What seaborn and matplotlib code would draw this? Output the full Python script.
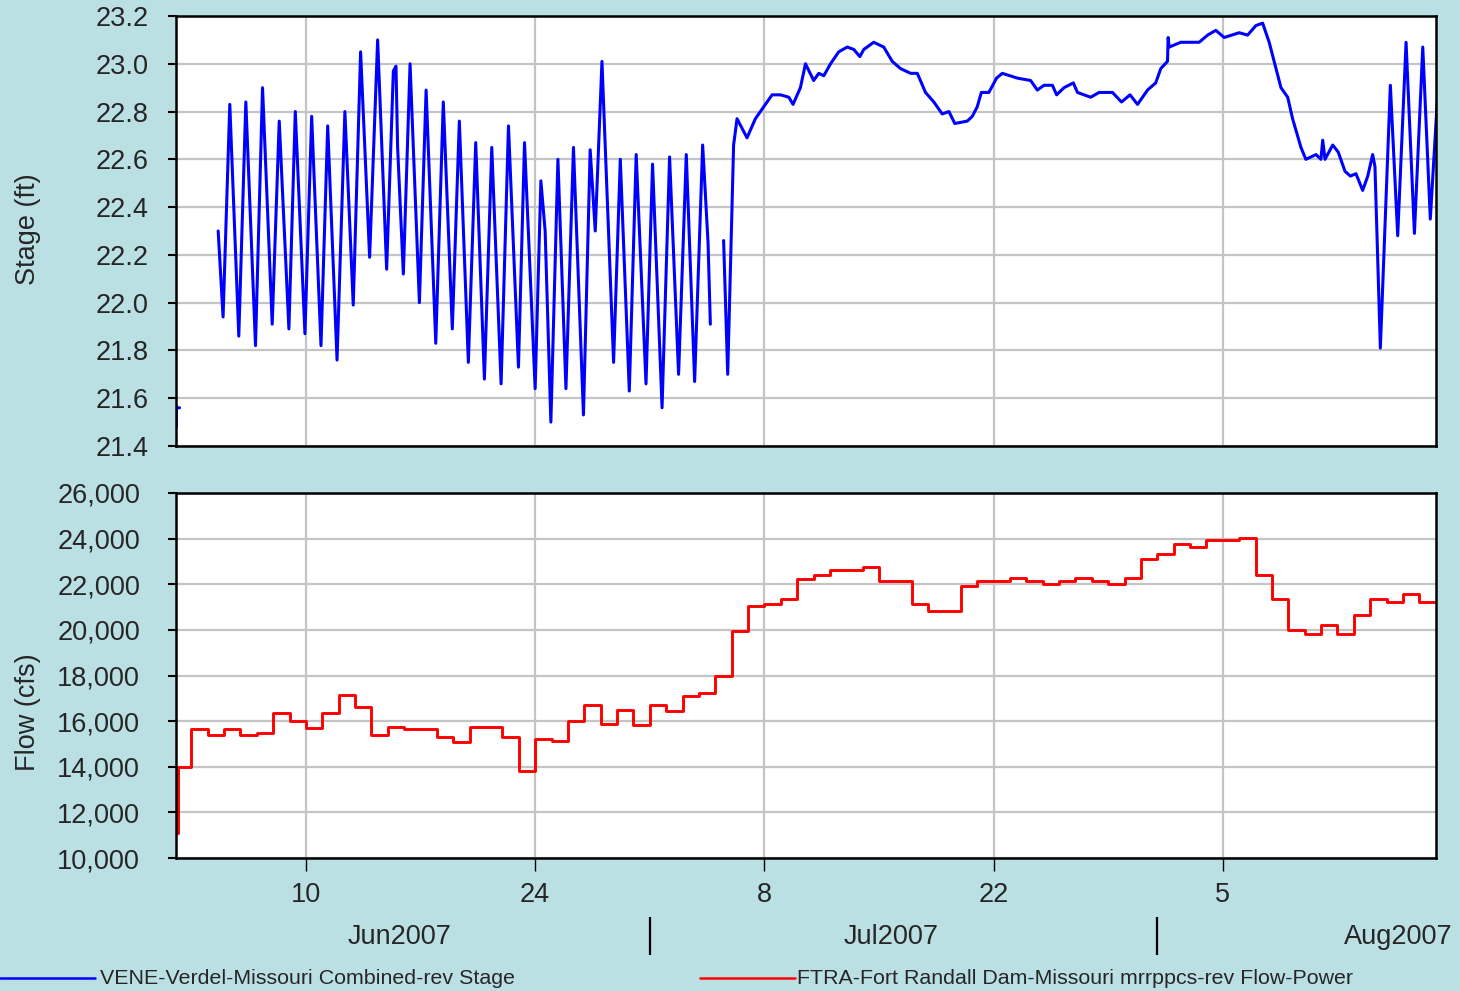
# %%
# ===== Loading Libraries =====
import numpy as np
import pandas as pd
import matplotlib
matplotlib.use('Agg')
import matplotlib.pyplot as plt
import matplotlib.dates as mdates
from matplotlib.lines import Line2D
from matplotlib.ticker import FuncFormatter
import seaborn as sns

sns.set_theme(style='white')
plt.rcParams['font.family'] = ['Liberation Sans', 'DejaVu Sans']

# %%
# ===== Data (days counted from 2007-06-01 00:00) =====
stage_day = [1.08, 1.09, 1.28, np.nan,
             3.64, 3.94, 4.35, 4.90, 5.33, 5.92, 6.35, 6.94, 7.37, 7.96, 8.35, 8.94,
             9.35, 9.92, 10.33, 10.90, 11.38, 11.89, 12.34, 12.89, 13.38, 13.93,
             14.34, 14.50, 14.60, 14.95, 15.36, 15.93, 16.34, 16.93, 17.39, 17.94,
             18.37, 18.92, 19.37, 19.90, 20.35, 20.92, 21.37, 21.98, 22.35, 23.00,
             23.35, 23.61, 23.96, 24.39, 24.88, 25.34, 25.95, 26.36, 26.67, 27.08,
             27.79, 28.20, 28.75, 29.17, 29.77, 30.17, 30.75, 31.21, 31.76, 32.23,
             32.74, 33.23, 33.56, 33.70, np.nan,
             34.51, 34.76, 35.12, 35.33, 35.94, 36.45, 36.96, 37.47, 37.98, 38.49,
             38.75, 39.20, 39.51, 40.01, 40.32, 40.63, 41.04, 41.54, 42.06, 42.46,
             42.83, 43.07, 43.68, 44.29, 44.81, 45.31, 45.93, 46.34, 46.84, 47.35,
             47.86, 48.27, 48.63, 49.39, 49.70, 50.00, 50.25, 50.71, 51.18, 51.53,
             52.45, 53.26, 53.67, 54.08, 54.59, 54.85, 55.30, 55.87, 56.12, 56.93,
             57.44, 58.26, 58.81, 59.33, 59.79, 60.40, 60.90, 61.21, 61.62, 61.66,
             61.72, 62.43, 63.55, 64.07, 64.57, 65.08, 66.00, 66.51, 67.02, 67.43,
             67.83, 68.55, 68.96, 69.26, 69.77, 70.07, 70.69, 70.99, 71.10, 71.24,
             71.71, 72.05, 72.46, 72.79, 73.13, 73.54, 73.85, 74.15, 74.29, 74.62,
             75.23, 75.68, 76.19, 76.70, 77.21, 77.67, 78.12]
stage_ft = [21.48, 21.56, 21.56, np.nan,
            22.30, 21.94, 22.83, 21.86, 22.84, 21.82, 22.90, 21.91, 22.76, 21.89, 22.80, 21.87,
            22.78, 21.82, 22.74, 21.76, 22.80, 21.99, 23.05, 22.19, 23.10, 22.14,
            22.97, 22.99, 22.65, 22.12, 23.00, 22.00, 22.89, 21.83, 22.84, 21.89,
            22.76, 21.75, 22.67, 21.68, 22.65, 21.66, 22.74, 21.73, 22.67, 21.64,
            22.51, 22.30, 21.50, 22.60, 21.64, 22.65, 21.53, 22.64, 22.30, 23.01,
            21.75, 22.60, 21.63, 22.62, 21.66, 22.58, 21.56, 22.61, 21.70, 22.62,
            21.67, 22.66, 22.25, 21.91, np.nan,
            22.26, 21.70, 22.66, 22.77, 22.69, 22.77, 22.82, 22.87, 22.87, 22.86,
            22.83, 22.90, 23.00, 22.93, 22.96, 22.95, 23.00, 23.05, 23.07, 23.06,
            23.03, 23.06, 23.09, 23.07, 23.01, 22.98, 22.96, 22.96, 22.88, 22.84,
            22.79, 22.80, 22.75, 22.76, 22.78, 22.82, 22.88, 22.88, 22.94, 22.96,
            22.94, 22.93, 22.89, 22.91, 22.91, 22.87, 22.90, 22.92, 22.88, 22.86,
            22.88, 22.88, 22.84, 22.87, 22.83, 22.89, 22.92, 22.98, 23.01, 23.11,
            23.07, 23.09, 23.09, 23.12, 23.14, 23.11, 23.13, 23.12, 23.16, 23.17,
            23.09, 22.90, 22.86, 22.77, 22.65, 22.60, 22.62, 22.60, 22.68, 22.60,
            22.66, 22.63, 22.55, 22.53, 22.54, 22.47, 22.53, 22.62, 22.57, 21.81,
            22.91, 22.28, 23.09, 22.29, 23.07, 22.35, 22.87]

flow_day = [1.0, 1.2] + list(range(2, 78))
flow_cfs = [11080, 14000, 15650, 15400, 15650, 15400, 15500, 16350, 16000, 15720,
            16350, 17150, 16600, 15400, 15740, 15640, 15640, 15300, 15100, 15740,
            15740, 15300, 13800, 15230, 15110, 16000, 16700, 15880, 16500, 15850,
            16700, 16430, 17100, 17230, 18000, 19930, 21030, 21120, 21340, 22250,
            22420, 22640, 22640, 22740, 22140, 22140, 21120, 20830, 20830, 21920,
            22140, 22140, 22260, 22140, 22030, 22140, 22260, 22140, 22030, 22260,
            23120, 23310, 23750, 23630, 23940, 23940, 24030, 22420, 21340, 20000,
            19830, 20230, 19830, 20640, 21340, 21220, 21560, 21220]

xtick_dates = ['2007-06-10', '2007-06-24', '2007-07-08', '2007-07-22', '2007-08-05']
xtick_labels = ['10', '24', '8', '22', '5']
month_labels = ['Jun2007', 'Jul2007', 'Aug2007']
month_label_dates = ['2007-06-15 17:00', '2007-07-15 17:00', '2007-08-15 17:00']
month_breaks = ['2007-07-01', '2007-08-01']
stage_ticks = [21.4, 21.6, 21.8, 22.0, 22.2, 22.4, 22.6, 22.8, 23.0, 23.2]
flow_ticks = [10000, 12000, 14000, 16000, 18000, 20000, 22000, 24000, 26000]

start, end = pd.Timestamp('2007-06-02 02:00'), pd.Timestamp('2007-08-18 00:00')
base = pd.Timestamp('2007-06-01')

# %%
# ===== Building frames =====
stage = pd.DataFrame({'day': stage_day, 'ft': stage_ft})
stage['segment'] = stage['ft'].isna().cumsum()
stage = stage.dropna()
stage['date'] = base + pd.to_timedelta(stage['day'], unit='D')

flow = pd.DataFrame({'day': flow_day + [78.0], 'cfs': flow_cfs + [flow_cfs[-1]]})
flow['date'] = base + pd.to_timedelta(flow['day'], unit='D')

# %%
# ===== Plot =====
bg = '#BAE0E4'
fs = 19.5
fig = plt.figure(figsize=(14.6, 9.91), dpi=100, facecolor=bg)
left, width = 176.3 / 1460, (1435.7 - 176.3) / 1460
ax1 = fig.add_axes([left, 1 - 446 / 991, width, 430 / 991])
ax2 = fig.add_axes([left, 1 - 858 / 991, width, 365 / 991])

sns.lineplot(data=stage, x='date', y='ft', units='segment', estimator=None, sort=False,
             color='#0000FF', lw=2.2, ax=ax1, legend=False)
sns.lineplot(data=flow, x='date', y='cfs', estimator=None, sort=False,
             drawstyle='steps-post', color='#FF0000', lw=2.1, ax=ax2, legend=False)

for ax in (ax1, ax2):
    ax.set_facecolor('white')
    ax.grid(True, color='#C4C4C4', lw=1.6)
    ax.set_axisbelow(True)
    for s in ax.spines.values():
        s.set_color('black')
        s.set_linewidth(1.8)
    ax.set_xlim(start, end)
    ax.set_xticks(pd.to_datetime(xtick_dates))
    ax.set_xlabel('')
    ax.set_ylabel('')

ax1.set_ylim(21.4, 23.2)
ax1.set_yticks(stage_ticks)
ax1.yaxis.set_major_formatter(FuncFormatter(lambda v, p: f'{v:.1f}'))
ax1.tick_params(axis='x', bottom=False, labelbottom=False)
ax1.tick_params(axis='y', direction='out', left=True, length=6, width=1.5,
                color='black', labelsize=fs, pad=14)

ax2.set_ylim(10000, 26000)
ax2.set_yticks(flow_ticks)
ax2.yaxis.set_major_formatter(FuncFormatter(lambda v, p: f'{v:,.0f}'))
ax2.tick_params(axis='y', direction='out', left=True, length=6, width=1.5,
                color='black', labelsize=fs, pad=20)
ax2.set_xticklabels(xtick_labels)
ax2.tick_params(axis='x', direction='out', bottom=True, length=9, width=1,
                color='black', labelsize=fs, pad=8)

# month labels and separators under the day ticks
trans = ax2.get_xaxis_transform()
for d, lab in zip(month_label_dates, month_labels):
    ax2.text(mdates.date2num(pd.Timestamp(d)), -0.216, lab, transform=trans,
             ha='center', va='center', fontsize=fs, clip_on=False)
ax2.vlines(mdates.date2num(pd.to_datetime(month_breaks)), -0.265, -0.162,
           transform=trans, colors='black', lw=1.6, clip_on=False)

fig.text(28 / 1460, 1 - 229.5 / 991, 'Stage (ft)', rotation=90, ha='center', va='center', fontsize=fs)
fig.text(28 / 1460, 1 - 712 / 991, 'Flow (cfs)', rotation=90, ha='center', va='center', fontsize=fs)

# legend along the bottom edge
ly = 1 - 978 / 991
fig.add_artist(Line2D([0, 95 / 1460], [ly, ly], color='#0000FF', lw=1.8))
fig.text(100 / 1460, ly, 'VENE-Verdel-Missouri Combined-rev Stage', ha='left', va='center', fontsize=15.4)
fig.add_artist(Line2D([700 / 1460, 795 / 1460], [ly, ly], color='#FF0000', lw=1.8))
fig.text(797 / 1460, ly, 'FTRA-Fort Randall Dam-Missouri mrrppcs-rev Flow-Power', ha='left', va='center', fontsize=15.4)

fig.savefig('out.png', dpi=100, facecolor=bg)
